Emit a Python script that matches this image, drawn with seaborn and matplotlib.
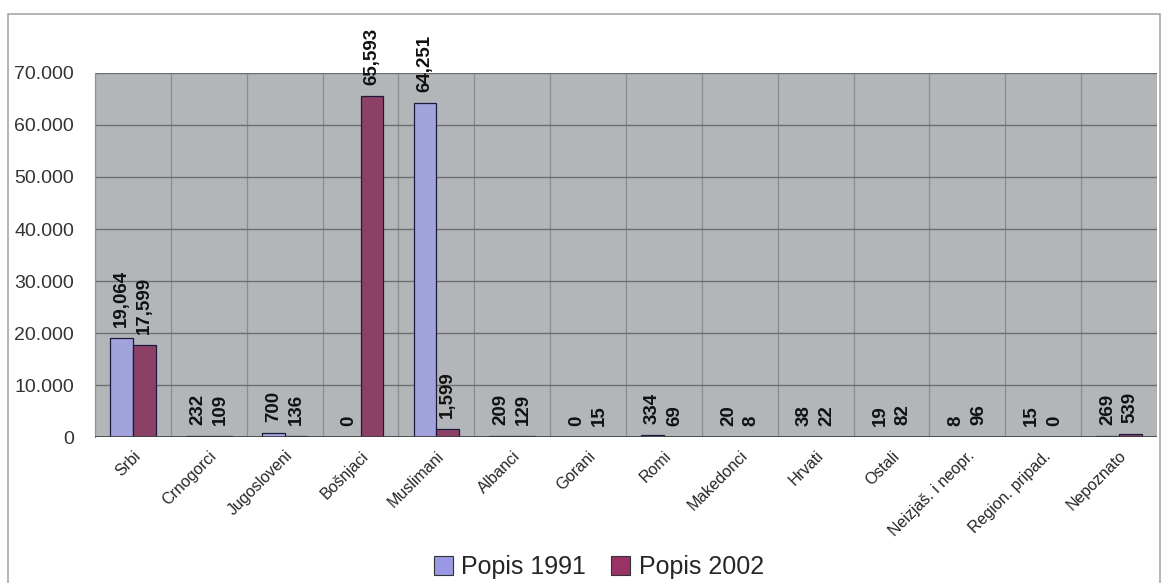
import matplotlib
matplotlib.use("Agg")
import matplotlib.pyplot as plt
import seaborn as sns
import pandas as pd
from matplotlib.patches import Rectangle, Patch
from matplotlib.ticker import FuncFormatter, MultipleLocator

categories = ["Srbi", "Crnogorci", "Jugosloveni", "Bošnjaci", "Muslimani", "Albanci",
              "Gorani", "Romi", "Makedonci", "Hrvati", "Ostali", "Neizjaš. i neopr.",
              "Region. pripad.", "Nepoznato"]
popis_1991 = [19064, 232, 700, 0, 64251, 209, 0, 334, 20, 38, 19, 8, 15, 269]
popis_2002 = [17599, 109, 136, 65593, 1599, 129, 15, 69, 8, 22, 82, 96, 0, 539]
series_names = ["Popis 1991", "Popis 2002"]
colors = ["#9999E6", "#993366"]

df = pd.DataFrame({
    "kategorija": categories * 2,
    "vrijednost": popis_1991 + popis_2002,
    "popis": [series_names[0]] * len(categories) + [series_names[1]] * len(categories),
})

sns.set_style("white")
plt.rcParams["font.family"] = ["Liberation Sans", "DejaVu Sans"]

fig = plt.figure(figsize=(11.63, 5.83), dpi=100)
ax = fig.add_axes([0.0817, 0.2504, 0.9131, 0.6244])
ax.set_facecolor("#B3B6B9")

sns.barplot(data=df, x="kategorija", y="vrijednost", hue="popis", order=categories,
            hue_order=series_names, palette=colors, width=0.6, edgecolor="#1a1a40",
            linewidth=0.9, ax=ax, legend=False, zorder=3)

ax.set_ylim(0, 70000)
ax.set_xlim(-0.5, len(categories) - 0.5)
ax.yaxis.set_major_locator(MultipleLocator(10000))
ax.yaxis.set_major_formatter(FuncFormatter(lambda v, p: f"{int(v):,}".replace(",", ".")))
ax.grid(axis="y", color="#6E6E6E", linewidth=1.0, zorder=0)
for b in range(len(categories) + 1):
    ax.axvline(b - 0.5, color="#8A8D90", linewidth=0.9, zorder=0)
ax.axhline(0, color="#404040", linewidth=1.2, zorder=4)

for spine in ["top", "right", "bottom"]:
    ax.spines[spine].set_visible(False)
ax.spines["left"].set_color("#909090")

ax.tick_params(axis="y", length=14, color="#505050", labelsize=14, pad=1, labelcolor="#333333")
ax.tick_params(axis="x", length=6, color="#505050", labelsize=11.5, pad=2)
ax.set_xlabel("")
ax.set_ylabel("")
plt.setp(ax.get_xticklabels(), rotation=45, ha="right", rotation_mode="anchor")

for cont in ax.containers:
    labels = [f"{int(v):,}" for v in cont.datavalues]
    ax.bar_label(cont, labels=labels, rotation=90, padding=8, fontsize=13.5,
                 fontweight="bold", color="#111111", zorder=5)

fig.patches.append(Rectangle((0.007, -0.05), 0.99, 1.026, transform=fig.transFigure,
                             fill=False, edgecolor="#A8A8A8", linewidth=1.2))

handles = [Patch(facecolor=c, edgecolor="#333333", linewidth=0.8) for c in colors]
fig.legend(handles, series_names, loc="center", bbox_to_anchor=(0.515, 0.027), ncol=2,
           frameon=False, fontsize=18, handlelength=0.75, handleheight=0.75,
           handletextpad=0.35, columnspacing=1.0)

fig.savefig("out.png", dpi=100)
